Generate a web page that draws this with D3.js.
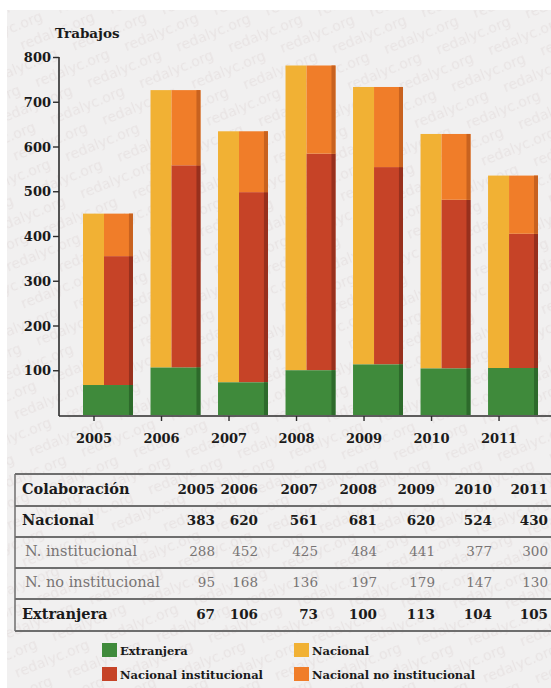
<!DOCTYPE html>
<html>
<head>
<meta charset="utf-8">
<script src="https://cdn.jsdelivr.net/npm/d3@7"></script>
<style>
  html, body { margin: 0; padding: 0; background: #ffffff; }
  svg { display: block; }
</style>
</head>
<body>
<svg id="chart" width="551" height="688"></svg>
<script>
// ---------- data ----------
const years = ["2005", "2006", "2007", "2008", "2009", "2010", "2011"];
const nacional = [383, 620, 561, 681, 620, 524, 430];
const nInstitucional = [288, 452, 425, 484, 441, 377, 300];
const nNoInstitucional = [95, 168, 136, 197, 179, 147, 130];
const extranjera = [67, 106, 73, 100, 113, 104, 105];
const yTicks = [100, 200, 300, 400, 500, 600, 700, 800];
const rowLabels = ["Nacional", "N. institucional", "N. no institucional", "Extranjera"];
const legendLabels = ["Extranjera", "Nacional", "Nacional institucional", "Nacional no institucional"];
const watermark = "redalyc.org";

// ---------- styles ----------
const C = {
  green: "#3f8a3b", greenDark: "#2d6a2b",
  yellow: "#f1b134",
  red: "#c64327", redDark: "#97301d",
  orange: "#f07d29", orangeDark: "#c8621f",
  axis: "#2b2b2b", grid: "#6e6e6e",
  bg: "#f1f0f0"
};
const FONT = "'DejaVu Serif', serif";

const svg = d3.select("#chart");
svg.append("rect").attr("width", 551).attr("height", 688).attr("fill", "#ffffff");
svg.append("rect").attr("x", 7).attr("y", 10).attr("width", 544).attr("height", 678).attr("fill", C.bg);

// faint watermark texture
const defs = svg.append("defs");
const pat = defs.append("pattern").attr("id", "wm").attr("patternUnits", "userSpaceOnUse")
  .attr("width", 96).attr("height", 40).attr("patternTransform", "rotate(-22)");
[[2, 15], [-46, 35], [50, 35]].forEach(([tx, ty]) => {
  pat.append("text").attr("x", tx).attr("y", ty).text(watermark)
    .attr("font-family", "'DejaVu Sans', sans-serif").attr("font-size", 14)
    .attr("fill", "#cbbaba").attr("fill-opacity", 0.25);
});
svg.append("rect").attr("x", 7).attr("y", 10).attr("width", 544).attr("height", 678).attr("fill", "url(#wm)");

// ---------- scales ----------
const y = d3.scaleLinear().domain([0, 800]).range([415, 57]);
const x = d3.scaleBand().domain(years).range([83, 538]).paddingInner(0.26).paddingOuter(0);
const bw = x.bandwidth();
const leftW = 21;
const edge = 4;

const g = svg.append("g");

// bars
years.forEach((yr, i) => {
  const x0 = x(yr);
  const ext = extranjera[i];
  g.append("rect").attr("x", x0).attr("width", leftW)
    .attr("y", y(ext + nacional[i])).attr("height", y(ext) - y(ext + nacional[i]))
    .attr("fill", C.yellow);
  const rx = x0 + leftW, rw = bw - leftW;
  const segs = [
    {lo: ext, hi: ext + nInstitucional[i], f: C.red, d: C.redDark},
    {lo: ext + nInstitucional[i], hi: ext + nInstitucional[i] + nNoInstitucional[i], f: C.orange, d: C.orangeDark}
  ];
  segs.forEach(s => {
    g.append("rect").attr("x", rx).attr("width", rw)
      .attr("y", y(s.hi)).attr("height", y(s.lo) - y(s.hi)).attr("fill", s.f);
    g.append("rect").attr("x", rx + rw - edge).attr("width", edge)
      .attr("y", y(s.hi)).attr("height", y(s.lo) - y(s.hi)).attr("fill", s.d);
  });
  g.append("rect").attr("x", x0).attr("width", bw)
    .attr("y", y(ext)).attr("height", y(0) - y(ext)).attr("fill", C.green);
  g.append("rect").attr("x", x0 + bw - edge).attr("width", edge)
    .attr("y", y(ext)).attr("height", y(0) - y(ext)).attr("fill", C.greenDark);
});

// y axis
const yAxis = d3.axisLeft(y).tickValues(yTicks).tickSize(6).tickPadding(2).tickFormat(d3.format("d"));
const ya = svg.append("g").attr("transform", "translate(59,0)").call(yAxis);
ya.select(".domain").attr("d", `M0,${y(800)}V${y(0) + 1}`).attr("stroke", C.axis).attr("stroke-width", 1.6);
ya.selectAll(".tick line").attr("stroke", C.axis).attr("stroke-width", 1.4);
ya.selectAll(".tick text").attr("font-family", FONT).attr("font-weight", "bold")
  .attr("font-size", 13).attr("fill", "#1a1a1a").attr("dy", "0.35em");

// x axis
const xPos = d3.scalePoint().domain(years).range([x(years[0]) + leftW / 2, x(years[6]) + leftW / 2]);
const xAxis = d3.axisBottom(xPos).tickSize(5).tickPadding(13).tickSizeOuter(0);
const xa = svg.append("g").attr("transform", `translate(0,${y(0) + 1})`).call(xAxis);
xa.select(".domain").attr("d", "M59,0H551").attr("stroke", C.axis).attr("stroke-width", 1.6);
xa.selectAll(".tick line").attr("stroke", C.axis).attr("stroke-width", 1.4);
xa.selectAll(".tick text").attr("font-family", FONT).attr("font-weight", "bold")
  .attr("font-size", 13).attr("fill", "#1a1a1a");

// y title
svg.append("text").attr("x", 55).attr("y", 38).text("Trabajos")
  .attr("font-family", FONT).attr("font-weight", "bold").attr("font-size", 13.5).attr("fill", "#1a1a1a");

// ---------- table ----------
const rowY = [474, 506, 537, 568, 599, 631];
const colRight = [215, 258, 318, 377, 435, 492, 548];
const tbl = svg.append("g");
rowY.forEach(ry => {
  tbl.append("line").attr("x1", 15).attr("x2", 551).attr("y1", ry).attr("y2", ry)
    .attr("stroke", C.grid).attr("stroke-width", 2);
});
tbl.append("line").attr("x1", 15).attr("x2", 15).attr("y1", rowY[0]).attr("y2", rowY[5])
  .attr("stroke", C.grid).attr("stroke-width", 1.5);

const headerBase = rowY[1] - 12;
tbl.append("text").attr("x", 22).attr("y", headerBase).text("Colaboración")
  .attr("font-family", FONT).attr("font-weight", "bold").attr("font-size", 14.5).attr("fill", "#1a1a1a");
years.forEach((yr, j) => {
  tbl.append("text").attr("x", colRight[j]).attr("y", headerBase).attr("text-anchor", "end").text(yr)
    .attr("font-family", FONT).attr("font-weight", "bold").attr("font-size", 13.5).attr("fill", "#1a1a1a");
});
const rows = [nacional, nInstitucional, nNoInstitucional, extranjera];
const rowSub = [false, true, true, false];
rows.forEach((vals, r) => {
  const base = rowY[r + 2] - 12;
  const col = rowSub[r] ? "#787474" : "#1a1a1a";
  const wt = rowSub[r] ? "normal" : "bold";
  tbl.append("text").attr("x", rowSub[r] ? 25 : 22).attr("y", base).text(rowLabels[r])
    .attr("font-family", FONT).attr("font-weight", wt).attr("font-size", 14.5).attr("fill", col);
  vals.forEach((v, j) => {
    tbl.append("text").attr("x", colRight[j]).attr("y", base).attr("text-anchor", "end").text(v)
      .attr("font-family", FONT).attr("font-weight", wt).attr("font-size", 13.5).attr("fill", col);
  });
});

// ---------- legend ----------
const legColors = [C.green, C.yellow, C.red, C.orange];
const legPos = [[102, 643], [294, 643], [102, 667], [294, 667]];
legendLabels.forEach((lab, k) => {
  const [lx, ly] = legPos[k];
  svg.append("rect").attr("x", lx).attr("y", ly).attr("width", 15).attr("height", 14).attr("fill", legColors[k]);
  svg.append("text").attr("x", lx + 18).attr("y", ly + 12).text(lab)
    .attr("font-family", FONT).attr("font-weight", "bold").attr("font-size", 11.5).attr("fill", "#1a1a1a");
});
</script>
</body>
</html>
